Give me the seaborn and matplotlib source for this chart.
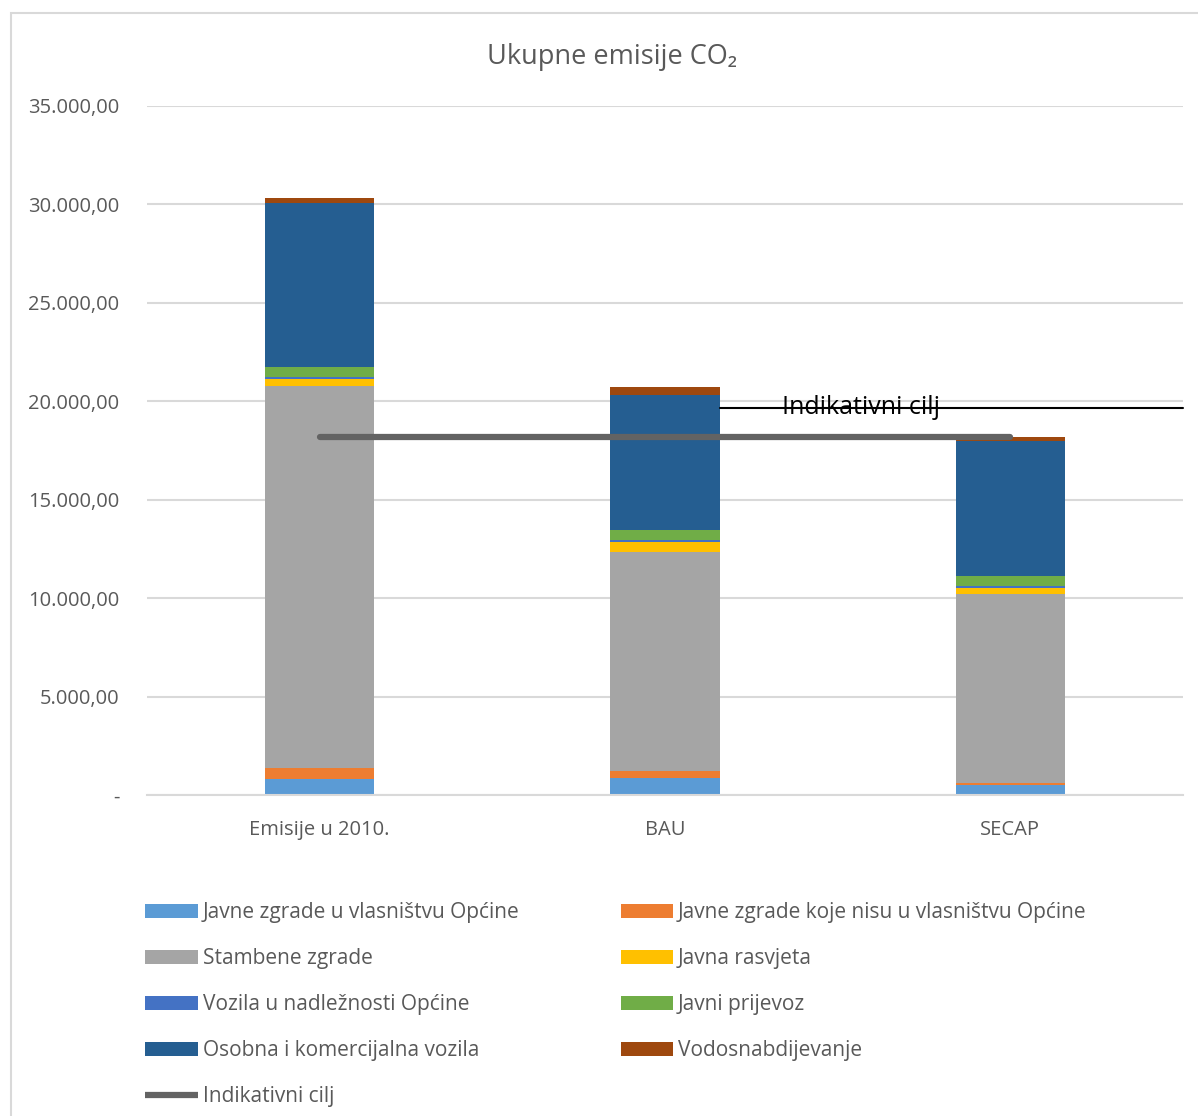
import matplotlib
matplotlib.use("Agg")
import matplotlib.pyplot as plt
import matplotlib.ticker as mticker
from matplotlib.patches import Rectangle, Patch
from matplotlib.lines import Line2D
import numpy as np
import pandas as pd
import seaborn as sns

categories = ["Emisije u 2010.", "BAU", "SECAP"]
series_names = [
    "Javne zgrade u vlasništvu Općine",
    "Javne zgrade koje nisu u vlasništvu Općine",
    "Stambene zgrade",
    "Javna rasvjeta",
    "Vozila u nadležnosti Općine",
    "Javni prijevoz",
    "Osobna i komercijalna vozila",
    "Vodosnabdijevanje",
]
javne_op = [800, 880, 508]
javne_ostale = [575, 340, 100]
stambene = [19400, 11124, 9603]
rasvjeta = [356, 525, 320]
vozila_op = [100, 100, 85]
prijevoz = [508, 490, 508]
osobna = [8330, 6858, 6858]
vodo = [254, 423, 188]
indikativni_cilj = [18200, 18200, 18200]
cilj_label = "Indikativni cilj"
title = "Ukupne emisije CO₂"

colors = ["#5B9BD5", "#ED7D31", "#A5A5A5", "#FFC000", "#4472C4", "#70AD47", "#255E91", "#9E480E"]
line_color = "#636363"
text_color = "#595959"

series = [javne_op, javne_ostale, stambene, rasvjeta, vozila_op, prijevoz, osobna, vodo]

sns.set_theme(style="white")
plt.rcParams["font.family"] = ["Open Sans", "DejaVu Sans"]

fig = plt.figure(figsize=(11.98, 11.16), dpi=100)
W, H = 1198, 1116
ax = fig.add_axes([147 / W, 1 - 795 / H, (1183 - 147) / W, (795 - 106) / H])

# chart frame
fig.patches.append(Rectangle((11 / W, -0.01), 1.05, 1 - 13 / H + 0.01, transform=fig.transFigure,
                             fill=False, edgecolor="#D9D9D9", linewidth=1.5, zorder=0))

cum = np.cumsum(np.array(series, dtype=float), axis=0)
bar_w = 0.316
for i in range(len(series) - 1, -1, -1):
    df = pd.DataFrame({"cat": categories, "val": cum[i]})
    sns.barplot(data=df, x="cat", y="val", color=colors[i], saturation=1, width=bar_w,
                ax=ax, zorder=2, linewidth=0, edgecolor="none", order=categories)

xpos = np.arange(len(categories))
sns.lineplot(x=xpos, y=indikativni_cilj, color=line_color, linewidth=4.5, ax=ax, zorder=3)

# data label leader for indicator
ycl = 19660
ax.plot([1 + bar_w / 2, 2.5], [ycl, ycl], color="black", linewidth=1.5, zorder=4, clip_on=False)
ax.text(1.568, ycl, cilj_label, ha="center", va="center", fontsize=18, color="black", zorder=5)

ax.set_xlim(-0.5, 2.5)
ax.set_ylim(0, 35000)
ax.yaxis.set_major_locator(mticker.MultipleLocator(5000))

def fmt(v, pos):
    if v == 0:
        return "-"
    s = f"{v:,.2f}"
    return s.replace(",", "X").replace(".", ",").replace("X", ".")

ax.yaxis.set_major_formatter(mticker.FuncFormatter(fmt))
ax.grid(axis="y", color="#D9D9D9", linewidth=1.5, zorder=0)
ax.set_axisbelow(True)
for s in ["top", "right", "left"]:
    ax.spines[s].set_visible(False)
ax.spines["bottom"].set_color("#D9D9D9")
ax.spines["bottom"].set_linewidth(1.5)
ax.tick_params(axis="both", length=0, labelsize=14.5, labelcolor=text_color)
ax.tick_params(axis="x", pad=18)
ax.tick_params(axis="y", pad=20)
ax.set_xlabel("")
ax.set_ylabel("")

fig.text(612 / W, 1 - 57 / H, title, ha="center", va="center", fontsize=19.5, color=text_color)

handles = [Patch(facecolor=c, edgecolor="none") for c in colors]
handles.append(Line2D([0], [0], color=line_color, linewidth=4.5, solid_capstyle="butt"))
labels = series_names + [cilj_label]
# order for 2-column legend filled row-wise
order = [0, 2, 4, 6, 8, 1, 3, 5, 7]
leg = fig.legend([handles[k] for k in order], [labels[k] for k in order], ncol=2,
                 loc="upper left", bbox_to_anchor=(135 / W, 1 - 892 / H), frameon=False,
                 fontsize=15, labelcolor=text_color, handlelength=2.5, handleheight=0.6,
                 handletextpad=0.25, columnspacing=4.85, labelspacing=1.2, borderpad=0)

fig.savefig("out.png", dpi=100)
